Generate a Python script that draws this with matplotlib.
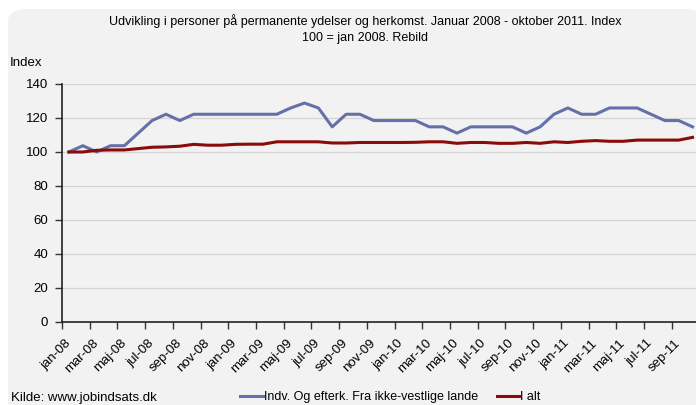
"""
Udvikling i personer paa permanente ydelser og herkomst, Rebild.
"""
import matplotlib
matplotlib.use("Agg")
from matplotlib import pyplot as plt
from matplotlib.patches import FancyBboxPatch

plt.rcParams['font.family'] = ['Liberation Sans', 'DejaVu Sans']

# months jan-08 .. okt-11
month_names = ["jan", "feb", "mar", "apr", "maj", "jun",
               "jul", "aug", "sep", "okt", "nov", "dec"]
years = ["08", "09", "10", "11"]
months = ["{}-{}".format(m, y) for y in years for m in month_names][:46]

# index values (100 = jan 2008)
ikke_vestlige = [100.0, 103.7, 100.0, 103.7, 103.7, 111.1, 118.5, 122.2, 118.5, 122.2,
                 122.2, 122.2, 122.2, 122.2, 122.2, 122.2, 125.9, 128.8, 125.9, 114.8,
                 122.2, 122.2, 118.5, 118.5, 118.5, 118.5, 114.8, 114.8, 111.1, 114.8,
                 114.8, 114.8, 114.8, 111.1, 114.8, 122.2, 125.9, 122.2, 122.2, 125.9,
                 125.9, 125.9, 122.2, 118.5, 118.5, 114.8]
i_alt = [100.0, 100.0, 101.0, 101.2, 101.2, 102.0, 102.8, 103.0, 103.4, 104.5,
         104.0, 104.0, 104.5, 104.6, 104.6, 106.0, 106.0, 106.0, 106.0, 105.3,
         105.3, 105.6, 105.6, 105.6, 105.6, 105.7, 106.0, 106.0, 105.1, 105.6,
         105.6, 105.1, 105.1, 105.6, 105.1, 106.0, 105.6, 106.3, 106.7, 106.3,
         106.3, 107.0, 107.0, 107.0, 107.0, 108.6]

bg = '#f1f2f1'
blue = '#6670a8'
red = '#8b0a0a'

fig = plt.figure(figsize=(6.96, 4.05), dpi=100)
fig.patch.set_facecolor('white')
fig.patches.append(FancyBboxPatch((8 / 696, -0.1), 1.0, 1.1 - 9 / 405,
                                  boxstyle="round,pad=0,rounding_size=0.03",
                                  transform=fig.transFigure, facecolor=bg,
                                  edgecolor='none', zorder=-1))

ax = fig.add_axes([62 / 696, 1 - 322 / 405, 637.5 / 696, 238 / 405])
ax.set_facecolor(bg)

x = list(range(len(months)))
ax.plot(x, ikke_vestlige, color=blue, lw=2.2, label="Indv. Og efterk. Fra ikke-vestlige lande")
ax.plot(x, i_alt, color=red, lw=2.2, label="I alt")

ax.set_xlim(-0.5, len(months) - 0.5)
ax.set_ylim(0, 140)
ax.set_yticks(range(0, 141, 20))
ax.yaxis.grid(True, color='#d4d4d4', lw=0.9)
ax.set_axisbelow(True)
ax.tick_params(axis='y', length=5, width=1, labelsize=9.5, pad=5, color='#333333')

ax.set_xticks(x[::2])
ax.set_xticklabels(months[::2], rotation=45, ha='right', va='center',
                   rotation_mode='anchor', fontsize=9.5)
ax.tick_params(axis='x', length=0, pad=14)
ax.set_xticks([v - 0.5 for v in x[::2]] + [len(months) - 0.5], minor=True)
ax.tick_params(axis='x', which='minor', length=5, width=1, color='#333333')

for side in ['top', 'right']:
    ax.spines[side].set_visible(False)
for side in ['left', 'bottom']:
    ax.spines[side].set_color('#222222')
    ax.spines[side].set_linewidth(1.2)

fig.text(365 / 696, 1 - 21 / 405,
         "Udvikling i personer på permanente ydelser og herkomst. Januar 2008 - oktober 2011. Index",
         ha='center', va='center', fontsize=9)
fig.text(365 / 696, 1 - 38 / 405, "100 = jan 2008. Rebild",
         ha='center', va='center', fontsize=9)
fig.text(10 / 696, 1 - 63 / 405, "Index", ha='left', va='center', fontsize=9.5)
fig.text(11 / 696, 1 - 398 / 405, "Kilde: www.jobindsats.dk", ha='left', va='center', fontsize=9.5)

fig.legend(loc='center left', bbox_to_anchor=(240 / 696, 1 - 397 / 405), ncol=2,
           frameon=False, fontsize=9, handlelength=1.8, handletextpad=0.1,
           columnspacing=1.5, borderpad=0, borderaxespad=0)

fig.savefig("out.png", dpi=100)
